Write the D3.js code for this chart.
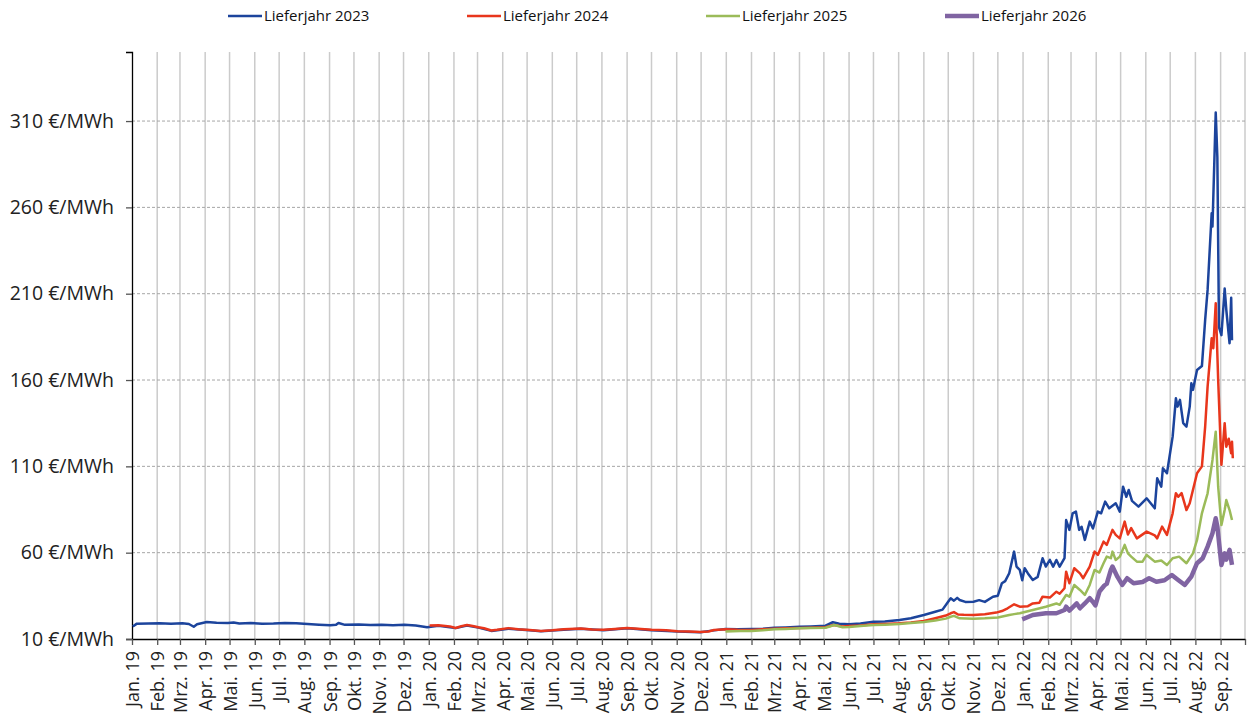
<!DOCTYPE html>
<html>
<head>
<meta charset="utf-8">
<script src="https://cdn.jsdelivr.net/npm/d3@7"></script>
<style>
  body { margin: 0; background: #fff; }
  svg { font-family: "Open Sans", "Noto Sans", sans-serif; }
</style>
</head>
<body>
<div id="chart"></div>
<script>
// German month abbreviations used for the x labels
const monthNames = ["Jan.", "Feb.", "Mrz.", "Apr.", "Mai.", "Jun.", "Jul.", "Aug.", "Sep.", "Okt.", "Nov.", "Dez."];
const yTicks = [10, 60, 110, 160, 210, 260, 310];
const seriesNames = ["Lieferjahr 2023", "Lieferjahr 2024", "Lieferjahr 2025", "Lieferjahr 2026"];

// values, €/MWh
const lj2023 = [
  ["2019-01-02",17.2],["2019-01-07",18.9],["2019-01-21",19.0],["2019-02-04",19.1],["2019-02-18",18.9],["2019-03-04",19.1],
  ["2019-03-12",18.7],["2019-03-18",17.1],["2019-03-22",18.5],["2019-04-03",19.8],["2019-04-15",19.4],["2019-04-29",19.3],
  ["2019-05-06",19.6],["2019-05-13",19.0],["2019-05-27",19.2],["2019-06-10",18.9],["2019-06-24",19.0],["2019-07-08",19.3],
  ["2019-07-22",19.1],["2019-08-05",18.7],["2019-08-19",18.3],["2019-09-02",17.9],["2019-09-09",18.2],["2019-09-12",19.3],
  ["2019-09-20",18.2],["2019-10-07",18.4],["2019-10-21",18.1],["2019-11-04",18.3],["2019-11-18",18.0],["2019-12-02",18.3],
  ["2019-12-16",17.8],["2019-12-30",16.8],
  ["2020-01-13",17.6],["2020-02-03",16.3],["2020-02-17",17.8],["2020-03-02",16.6],["2020-03-18",14.7],["2020-04-08",16.0],
  ["2020-05-04",15.0],["2020-05-18",14.5],["2020-06-15",15.4],["2020-07-06",15.9],["2020-08-03",15.1],["2020-09-01",16.2],
  ["2020-10-01",15.1],["2020-11-02",14.3],["2020-11-30",13.9],["2020-12-17",15.0],["2020-12-31",15.8],
  ["2021-01-15",15.6],["2021-02-01",15.8],["2021-02-15",16.0],["2021-03-01",16.5],["2021-03-15",16.7],["2021-04-01",17.1],
  ["2021-04-15",17.3],["2021-05-03",17.7],["2021-05-12",19.7],["2021-05-20",18.8],["2021-06-01",18.5],["2021-06-15",19.0],
  ["2021-07-01",20.0],["2021-07-15",20.2],["2021-08-02",21.0],["2021-08-16",22.0],["2021-09-01",23.9],["2021-09-15",25.8],
  ["2021-09-24",27.0],["2021-09-30",31.0],["2021-10-04",33.6],["2021-10-08",32.2],["2021-10-12",33.8],["2021-10-15",32.6],
  ["2021-10-22",31.5],["2021-11-01",31.6],["2021-11-08",32.5],["2021-11-15",31.5],["2021-11-25",34.5],["2021-12-01",35.1],
  ["2021-12-06",42.3],["2021-12-10",43.5],["2021-12-15",48.1],["2021-12-21",60.6],["2021-12-24",51.9],["2021-12-28",50.0],
  ["2021-12-31",44.0],["2022-01-03",51.0],["2022-01-07",48.0],["2022-01-13",44.2],["2022-01-19",46.0],["2022-01-25",56.8],
  ["2022-01-29",52.0],["2022-02-03",55.8],["2022-02-07",51.9],["2022-02-11",55.8],["2022-02-15",51.9],["2022-02-21",56.8],
  ["2022-02-23",78.9],["2022-02-27",73.2],["2022-03-03",82.8],["2022-03-07",83.8],["2022-03-11",73.2],["2022-03-14",75.0],
  ["2022-03-18",67.4],["2022-03-24",78.0],["2022-03-28",74.0],["2022-04-03",83.8],["2022-04-07",82.8],["2022-04-12",89.6],
  ["2022-04-17",85.7],["2022-04-25",88.6],["2022-04-30",83.8],["2022-05-04",98.2],["2022-05-08",92.4],["2022-05-11",96.3],
  ["2022-05-15",90.0],["2022-05-23",86.7],["2022-06-02",91.5],["2022-06-12",85.7],["2022-06-15",103.1],["2022-06-20",98.2],
  ["2022-06-22",108.9],["2022-06-27",106.0],["2022-07-04",127.2],["2022-07-08",149.4],["2022-07-10",144.6],["2022-07-13",148.5],
  ["2022-07-17",135.0],["2022-07-21",133.0],["2022-07-25",144.6],["2022-07-27",158.1],["2022-07-29",154.3],["2022-08-03",165.8],
  ["2022-08-09",168.1],["2022-08-13",194.8],["2022-08-16",212.2],["2022-08-21",256.6],["2022-08-22",248.9],["2022-08-26",315.0],
  ["2022-08-28",289.0],["2022-08-30",190.6],["2022-09-02",186.0],["2022-09-06",213.0],["2022-09-08",200.6],["2022-09-12",181.3],
  ["2022-09-14",207.6],["2022-09-15",183.0]
];

const lj2024 = [
  ["2020-01-02",17.8],["2020-01-13",17.9],["2020-01-27",17.3],["2020-02-03",16.4],["2020-02-10",17.4],["2020-02-17",18.1],
  ["2020-02-24",17.5],["2020-03-02",16.8],["2020-03-09",16.2],["2020-03-18",14.9],["2020-03-25",15.3],["2020-04-08",16.3],
  ["2020-04-20",15.6],["2020-05-04",15.2],["2020-05-18",14.7],["2020-06-01",15.0],["2020-06-15",15.6],["2020-07-06",16.1],
  ["2020-07-20",15.5],["2020-08-03",15.3],["2020-08-17",15.8],["2020-09-01",16.4],["2020-09-14",15.9],["2020-10-01",15.3],
  ["2020-10-19",15.0],["2020-11-02",14.5],["2020-11-16",14.4],["2020-11-30",14.0],["2020-12-10",14.3],["2020-12-17",15.2],
  ["2020-12-31",15.6],
  ["2021-01-15",15.3],["2021-02-01",15.2],["2021-02-15",15.6],["2021-03-01",16.0],["2021-03-15",16.2],["2021-04-01",16.3],
  ["2021-04-15",16.5],["2021-05-03",16.8],["2021-05-13",18.1],["2021-05-24",17.3],["2021-06-01",17.5],["2021-06-15",17.8],
  ["2021-07-01",18.5],["2021-07-15",18.7],["2021-08-02",19.1],["2021-08-16",19.6],["2021-09-01",20.4],["2021-09-15",22.0],
  ["2021-09-28",23.6],["2021-10-04",24.9],["2021-10-08",25.6],["2021-10-13",24.2],["2021-10-20",24.0],["2021-11-01",23.9],
  ["2021-11-15",24.3],["2021-11-29",25.3],["2021-12-06",26.2],["2021-12-13",27.8],["2021-12-21",30.1],["2021-12-28",28.7],
  ["2022-01-07",29.0],["2022-01-13",30.6],["2022-01-21",31.0],["2022-01-25",34.5],["2022-02-03",34.0],["2022-02-11",37.4],
  ["2022-02-15",36.2],["2022-02-21",39.4],["2022-02-23",49.0],["2022-02-27",42.3],["2022-03-05",51.0],["2022-03-12",48.0],
  ["2022-03-16",45.2],["2022-03-24",51.9],["2022-03-30",60.6],["2022-04-03",58.7],["2022-04-10",66.4],["2022-04-14",64.5],
  ["2022-04-21",73.2],["2022-04-25",70.3],["2022-04-30",68.3],["2022-05-06",78.0],["2022-05-10",70.5],["2022-05-14",74.2],
  ["2022-05-21",68.3],["2022-06-02",72.2],["2022-06-12",70.0],["2022-06-15",68.3],["2022-06-21",75.1],["2022-06-27",70.3],
  ["2022-07-04",82.8],["2022-07-08",94.4],["2022-07-11",92.4],["2022-07-15",94.5],["2022-07-21",84.7],["2022-07-25",88.6],
  ["2022-08-03",106.0],["2022-08-09",110.0],["2022-08-13",133.0],["2022-08-16",156.2],["2022-08-21",184.2],["2022-08-23",178.4],
  ["2022-08-26",204.5],["2022-08-29",160.0],["2022-09-02",110.9],["2022-09-06",135.0],["2022-09-08",121.4],["2022-09-11",126.0],
  ["2022-09-14",117.6],["2022-09-15",124.3],["2022-09-16",114.7]
];

const lj2025 = [
  ["2020-12-31",14.4],["2021-01-18",14.6],["2021-02-01",14.6],["2021-02-15",15.0],["2021-03-01",15.6],["2021-03-15",15.8],
  ["2021-04-01",16.2],["2021-04-15",16.3],["2021-05-03",16.5],["2021-05-14",18.1],["2021-05-24",16.8],["2021-06-01",16.9],
  ["2021-06-15",17.5],["2021-07-01",18.1],["2021-07-15",18.3],["2021-08-02",18.7],["2021-08-16",19.2],["2021-09-01",19.8],
  ["2021-09-15",20.7],["2021-09-28",21.8],["2021-10-04",22.9],["2021-10-08",23.4],["2021-10-15",22.0],["2021-11-01",21.8],
  ["2021-11-15",22.0],["2021-12-01",22.5],["2021-12-15",23.9],["2021-12-21",24.4],["2021-12-28",24.9],
  ["2022-01-13",26.8],["2022-01-29",28.7],["2022-02-11",30.6],["2022-02-15",29.8],["2022-02-23",35.5],["2022-02-27",34.5],
  ["2022-03-05",41.3],["2022-03-12",38.4],["2022-03-18",35.5],["2022-03-24",41.3],["2022-03-30",50.0],["2022-04-05",48.5],
  ["2022-04-10",53.9],["2022-04-14",57.7],["2022-04-19",56.8],["2022-04-21",60.6],["2022-04-25",55.8],["2022-04-30",57.7],
  ["2022-05-06",64.5],["2022-05-10",59.6],["2022-05-14",57.7],["2022-05-21",54.8],["2022-05-28",54.8],["2022-06-02",58.7],
  ["2022-06-12",54.8],["2022-06-20",55.5],["2022-06-27",52.9],["2022-07-04",56.8],["2022-07-12",57.7],["2022-07-21",53.9],
  ["2022-07-29",59.6],["2022-08-03",67.4],["2022-08-09",82.8],["2022-08-16",94.4],["2022-08-22",113.7],["2022-08-26",130.1],
  ["2022-08-29",98.2],["2022-09-02",76.0],["2022-09-06",84.7],["2022-09-08",90.5],["2022-09-12",84.7],["2022-09-15",78.9]
];

const lj2026 = [
  ["2021-12-31",21.4],["2022-01-13",23.9],["2022-01-29",24.9],["2022-02-11",24.9],["2022-02-21",26.8],["2022-02-23",28.7],
  ["2022-02-27",26.5],["2022-03-08",30.6],["2022-03-12",27.8],["2022-03-18",30.6],["2022-03-24",33.6],["2022-03-28",31.5],
  ["2022-03-31",29.5],["2022-04-05",37.5],["2022-04-11",41.0],["2022-04-14",42.0],["2022-04-19",50.0],["2022-04-21",52.0],
  ["2022-04-27",46.1],["2022-05-03",41.3],["2022-05-09",45.2],["2022-05-17",42.3],["2022-05-28",43.0],["2022-06-05",45.2],
  ["2022-06-14",43.2],["2022-06-24",44.0],["2022-07-03",47.1],["2022-07-10",44.5],["2022-07-19",41.3],["2022-07-27",46.1],
  ["2022-08-03",53.9],["2022-08-10",56.8],["2022-08-16",63.5],["2022-08-22",71.2],["2022-08-26",79.9],["2022-08-28",75.1],
  ["2022-09-02",52.9],["2022-09-06",59.6],["2022-09-08",56.0],["2022-09-12",61.6],["2022-09-15",52.9]
];

const colors = ["#1c449c", "#e8361c", "#9bbb59", "#8064a2"];
const widths = [2.5, 2.5, 2.5, 4.5];

const width = 1250, height = 715;
const margin = {top: 52, right: 5, bottom: 76, left: 132};
const parse = d3.timeParse("%Y-%m-%d");

const svg = d3.select("#chart").append("svg")
  .attr("width", width)
  .attr("height", height);

const x = d3.scaleTime()
  .domain([new Date(2019, 0, 1), new Date(2022, 9, 1)])
  .range([margin.left, width - margin.right]);

const y = d3.scaleLinear()
  .domain([10, 350])
  .range([height - margin.bottom, margin.top]);

const months = d3.timeMonth.range(new Date(2019, 0, 1), new Date(2022, 9, 2));

// vertical month gridlines
svg.append("g")
  .selectAll("line")
  .data(months.slice(1))
  .join("line")
  .attr("x1", d => x(d)).attr("x2", d => x(d))
  .attr("y1", y(350)).attr("y2", y(10))
  .attr("stroke", "#cbcbcb")
  .attr("stroke-width", 1.5);

// horizontal dashed gridlines
svg.append("g")
  .selectAll("line")
  .data(yTicks.slice(1))
  .join("line")
  .attr("x1", x.range()[0]).attr("x2", x.range()[1])
  .attr("y1", d => y(d)).attr("y2", d => y(d))
  .attr("stroke", "#a6a6a6")
  .attr("stroke-width", 1)
  .attr("stroke-dasharray", "3,2");

// y axis
const yAxis = svg.append("g")
  .attr("transform", `translate(${margin.left},0)`)
  .call(d3.axisLeft(y).tickValues(yTicks).tickSize(6).tickPadding(12)
    .tickFormat(d => d + " €/MWh"));
yAxis.select(".domain").attr("stroke", "#000").attr("stroke-width", 1.3);
yAxis.selectAll(".tick line").attr("stroke", "#555").attr("stroke-width", 1.3);
yAxis.selectAll("text").attr("font-size", 19.5).attr("fill", "#222")
  .attr("font-family", "'Open Sans', sans-serif");

// x axis
const xAxis = svg.append("g")
  .attr("transform", `translate(0,${y(10)})`)
  .call(d3.axisBottom(x).tickValues(months).tickSize(6).tickSizeOuter(0)
    .tickFormat(d => d.getFullYear() === 2022 && d.getMonth() === 9 ? "" :
      monthNames[d.getMonth()] + " " + String(d.getFullYear()).slice(2)));
xAxis.select(".domain").attr("stroke", "#000").attr("stroke-width", 1.3);
xAxis.selectAll(".tick line").attr("stroke", "#555").attr("stroke-width", 1.3);
xAxis.selectAll("text")
  .attr("font-size", 18).attr("fill", "#222")
  .attr("font-family", "'Open Sans', sans-serif")
  .attr("text-anchor", "end")
  .attr("transform", "rotate(-90)")
  .attr("x", -12).attr("y", 0).attr("dy", "0.36em");

// lines
const line = d3.line()
  .x(d => x(parse(d[0])))
  .y(d => y(d[1]));

[lj2023, lj2024, lj2025, lj2026].forEach((s, i) => {
  svg.append("path")
    .datum(s)
    .attr("fill", "none")
    .attr("stroke", colors[i])
    .attr("stroke-width", widths[i])
    .attr("stroke-linejoin", "round")
    .attr("d", line);
});

// legend
const legend = svg.append("g").attr("transform", "translate(228,16)");
seriesNames.forEach((n, i) => {
  const g = legend.append("g").attr("transform", `translate(${i * 239},0)`);
  g.append("line").attr("x1", 0).attr("x2", 34).attr("y1", 0).attr("y2", 0)
    .attr("stroke", colors[i]).attr("stroke-width", i === 3 ? 4.5 : 2.5);
  g.append("text").attr("x", 36).attr("y", 0).attr("dy", "0.35em")
    .attr("font-size", 15).attr("fill", "#111").text(n);
});
</script>
</body>
</html>
